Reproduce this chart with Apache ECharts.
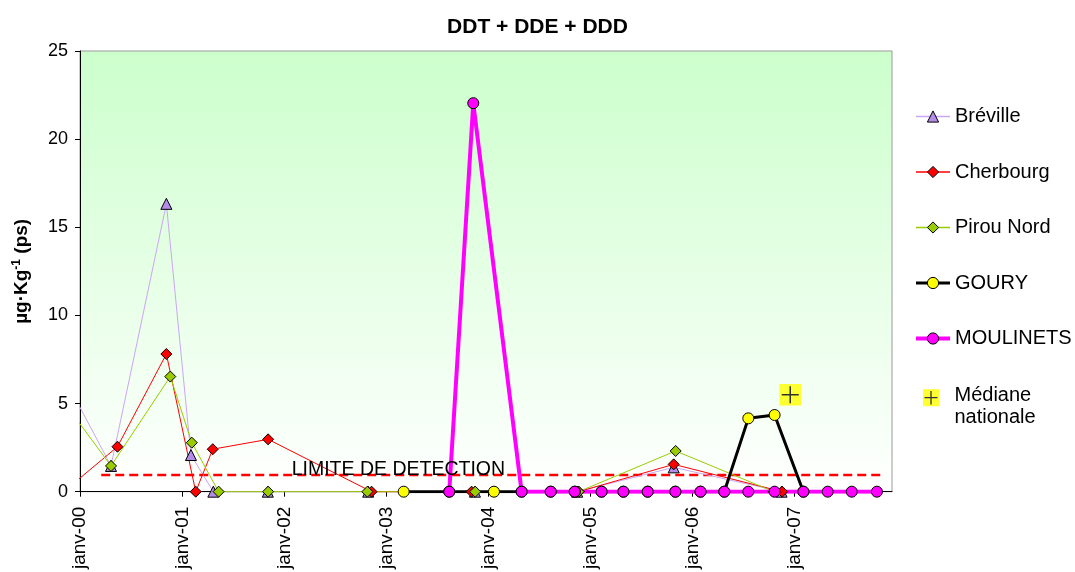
<!DOCTYPE html>
<html>
<head>
<meta charset="utf-8">
<title>DDT + DDE + DDD</title>
<script src="https://cdn.jsdelivr.net/npm/echarts@6/dist/echarts.min.js"></script>
<style>
  html, body { margin: 0; padding: 0; background: #fff; }
  #chart { width: 1075px; height: 572px; }
</style>
</head>
<body>
<div id="chart"></div>
<script>
// valeurs (µg/kg ps)
// le premier point de Bréville / Cherbourg / Pirou Nord est hors de l'axe (trait seul)
const brevilleDates = ['1999-11-25', '2000-04-21', '2000-11-05', '2001-02-01', '2001-04-22', '2001-11-03', '2002-10-28', '2003-11-14', '2004-11-14', '2005-10-25', '2006-11-15'];
const brevilleValues = [5.89, 1.46, 16.33, 2.08, 0, 0, 0, 0, 0, 1.38, 0];

const cherbourgDates = ['1999-11-25', '2000-05-14', '2000-11-05', '2001-02-18', '2001-04-20', '2001-11-04', '2002-11-09', '2003-11-02', '2004-11-19', '2005-10-25', '2006-11-17'];
const cherbourgValues = [0.28, 2.55, 7.81, 0, 2.41, 2.97, 0, 0, 0, 1.55, 0];

const pirouDates = ['1999-11-25', '2000-04-21', '2000-11-19', '2001-02-04', '2001-05-11', '2001-11-04', '2002-10-25', '2003-11-15', '2004-11-19', '2005-11-01', '2006-10-18'];
const pirouValues = [4.64, 1.46, 6.53, 2.78, 0, 0, 0, 0, 0, 2.31, 0];

const gouryDates = ['2003-03-04', '2003-08-14', '2004-01-21', '2004-04-29', '2004-08-11', '2004-11-05', '2005-02-09', '2005-04-28', '2005-07-24', '2005-10-31', '2006-01-29', '2006-04-24', '2006-07-19', '2006-10-21', '2007-02-01'];
const gouryValues = [0, 0, 0, 0, 0, 0, 0, 0, 0, 0, 0, 0, 4.16, 4.35, 0];

const moulinetsDates = ['2003-08-14', '2003-11-08', '2004-04-29', '2004-08-11', '2004-11-05', '2005-02-09', '2005-04-28', '2005-07-24', '2005-10-31', '2006-01-29', '2006-04-24', '2006-07-19', '2006-10-21', '2007-02-01', '2007-04-29', '2007-07-24', '2007-10-22'];
const moulinetsValues = [0, 22.04, 0, 0, 0, 0, 0, 0, 0, 0, 0, 0, 0, 0, 0, 0, 0];

const medianeDates = ['2006-12-16'];
const medianeValues = [5.5];

// limite de détection (ligne pointillée)
const limitDates = ['2000-03-17', '2003-02-13', '2007-11-15'];
const limitValue = 0.95;

const tickYears = [2000, 2001, 2002, 2003, 2004, 2005, 2006, 2007];

const FONT = "'Liberation Sans', Arial, sans-serif";

// dates -> millisecondes (UTC), l'axe x est un axe de valeurs
const ms = (d) => Date.parse(d + 'T00:00:00Z');
const pairs = (dates, values) => dates.map((d, i) => [ms(d), values[i]]);
// premier point sans marqueur
const pairsNoFirstMark = (dates, values) =>
  pairs(dates, values).map((p, i) => (i === 0 ? { value: p, symbol: 'none' } : p));
const tickValues = tickYears.map((y) => Date.UTC(y, 0, 1));

// carré jaune avec une croix noire
const plusSvg = '<svg xmlns="http://www.w3.org/2000/svg" width="22" height="22">' +
  '<rect width="22" height="22" fill="#ffff00"/>' +
  '<path d="M11 2.5V19.5M2.5 11H19.5" stroke="#000" stroke-width="1.5"/></svg>';
const medianeSymbol = 'image://data:image/svg+xml;charset=utf-8,' + encodeURIComponent(plusSvg);
// icône de légende : le carré en haut, aligné sur la première ligne du texte
const plusLegendSvg = '<svg xmlns="http://www.w3.org/2000/svg" width="17" height="39" viewBox="0 0 17 39">' +
  '<rect y="2.7" width="17" height="17" fill="#ffff00"/>' +
  '<path d="M8.5 4.5V18M2 11.2H15" stroke="#000" stroke-width="1.3"/></svg>';
const medianeLegendIcon = 'image://data:image/svg+xml;charset=utf-8,' + encodeURIComponent(plusLegendSvg);

const chart = echarts.init(document.getElementById('chart'));

const marker = (fill) => ({ color: fill, borderColor: '#000', borderWidth: 1 });

const option = {
  animation: false,
  backgroundColor: '#fff',
  textStyle: { fontFamily: FONT },
  title: {
    text: 'DDT + DDE + DDD',
    left: 'center',
    top: 12,
    textStyle: { fontSize: 21, fontWeight: 'bold', color: '#000', fontFamily: FONT },
  },
  legend: [
    {
      orient: 'vertical',
      left: 914,
      top: 106.5,
      padding: 0,
      itemWidth: 34,
      itemHeight: 14,
      itemGap: 35.5,
      data: [
        { name: 'Bréville', lineStyle: { width: 1.5 } },
        { name: 'Cherbourg', lineStyle: { width: 1.5 } },
        { name: 'Pirou Nord', lineStyle: { width: 1.5 } },
        { name: 'GOURY', lineStyle: { width: 3 } },
        { name: 'MOULINETS', lineStyle: { width: 4 } },
      ],
      itemStyle: { borderColor: '#000', borderWidth: 1 },
      textStyle: { fontSize: 20, lineHeight: 20, color: '#000', fontFamily: FONT },
    },
    {
      orient: 'vertical',
      left: 922.5,
      top: 384,
      padding: 0,
      itemWidth: 17,
      itemHeight: 39,
      data: [{ name: 'Médiane nationale', icon: medianeLegendIcon }],
      formatter: () => 'Médiane\nnationale',
      itemStyle: { borderWidth: 0 },
      textStyle: { fontSize: 20, lineHeight: 22, color: '#000', fontFamily: FONT, padding: [0, 0, 0, 10] },
    },
  ],
  grid: {
    left: 80,
    right: 183,
    top: 51,
    bottom: 80,
    show: true,
    borderColor: '#9a9a9a',
    borderWidth: 1,
    backgroundColor: new echarts.graphic.LinearGradient(0, 0, 0, 1, [
      { offset: 0, color: '#ccffcc' },
      { offset: 1, color: '#ffffff' },
    ]),
  },
  xAxis: {
    type: 'value',
    min: Date.UTC(2000, 0, 1),
    max: Date.UTC(2007, 11, 15),
    splitLine: { show: false },
    axisLine: { lineStyle: { color: '#000', width: 1 } },
    axisTick: { show: true, length: 5, lineStyle: { color: '#000' }, customValues: tickValues },
    axisLabel: {
      customValues: tickValues,
      rotate: 90,
      margin: 15,
      fontSize: 19,
      color: '#000',
      fontFamily: FONT,
      formatter: (v) => 'janv-' + String(new Date(v).getUTCFullYear()).slice(2),
    },
  },
  yAxis: {
    type: 'value',
    min: 0,
    max: 25,
    interval: 5,
    name: '{b|µg·Kg}{sup|-1}{b| (ps)}',
    nameLocation: 'middle',
    nameGap: 47,
    nameTextStyle: {
      rich: {
        b: { fontSize: 19, fontWeight: 'bold', color: '#000', fontFamily: FONT },
        sup: { fontSize: 12, fontWeight: 'bold', color: '#000', fontFamily: FONT, padding: [0, 0, 10, 0] },
      },
    },
    splitLine: { show: false },
    axisLine: { show: true, lineStyle: { color: '#000', width: 1 } },
    axisTick: { show: true, length: 5, lineStyle: { color: '#000' } },
    axisLabel: { fontSize: 18, color: '#000', margin: 12, fontFamily: FONT },
  },
  series: [
    {
      name: 'LIMITE DE DETECTION',
      type: 'line',
      symbol: 'none',
      data: limitDates.map((d, i) => i === 1
        ? {
            value: [ms(d), limitValue],
            symbol: 'circle',
            symbolSize: 1,
            itemStyle: { color: 'transparent' },
            label: {
              show: true,
              position: 'top',
              distance: -5,
              formatter: 'LIMITE DE DETECTION',
              fontSize: 19.5,
              color: '#000',
              fontFamily: FONT,
            },
          }
        : [ms(d), limitValue]),
      lineStyle: { color: '#ff0000', width: 2.5, type: [9, 5] },
      silent: true,
    },
    {
      name: 'Bréville',
      type: 'line',
      clip: false,
      data: pairsNoFirstMark(brevilleDates, brevilleValues),
      symbol: 'triangle',
      symbolSize: 11,
      lineStyle: { color: '#cba6f5', width: 1 },
      itemStyle: marker('#b48ce8'),
    },
    {
      name: 'Cherbourg',
      type: 'line',
      clip: false,
      data: pairsNoFirstMark(cherbourgDates, cherbourgValues),
      symbol: 'diamond',
      symbolSize: 11,
      lineStyle: { color: '#ff0000', width: 1 },
      itemStyle: marker('#ff0000'),
    },
    {
      name: 'Pirou Nord',
      type: 'line',
      clip: false,
      data: pairsNoFirstMark(pirouDates, pirouValues),
      symbol: 'diamond',
      symbolSize: 11,
      lineStyle: { color: '#99cc00', width: 1 },
      itemStyle: marker('#99cc00'),
    },
    {
      name: 'GOURY',
      type: 'line',
      data: pairs(gouryDates, gouryValues),
      symbol: 'circle',
      symbolSize: 11,
      lineStyle: { color: '#000', width: 3 },
      itemStyle: marker('#ffff00'),
    },
    {
      name: 'MOULINETS',
      type: 'line',
      data: pairs(moulinetsDates, moulinetsValues),
      symbol: 'circle',
      symbolSize: 11,
      lineStyle: { color: '#ff00ff', width: 4 },
      itemStyle: marker('#ff00ff'),
    },
    {
      name: 'Médiane nationale',
      type: 'scatter',
      data: pairs(medianeDates, medianeValues),
      symbol: medianeSymbol,
      symbolSize: 22,
      z: 5,
    },
  ],
};

chart.setOption(option);
</script>
</body>
</html>
